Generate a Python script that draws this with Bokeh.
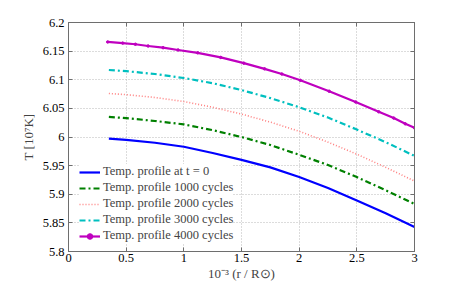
from bokeh.plotting import figure
from bokeh.models import LinearAxis, FixedTicker, Legend, LegendItem, Range1d
from bokeh.embed import file_html
from bokeh.resources import INLINE

x_vals = [0.35, 0.5, 0.75, 1.0, 1.25, 1.5, 1.75, 2.0, 2.25, 2.5, 2.75, 3.0]
t0 = [5.997, 5.995, 5.990, 5.983, 5.972, 5.960, 5.947, 5.930, 5.911, 5.889, 5.867, 5.843]
c1000 = [6.035, 6.033, 6.028, 6.022, 6.012, 6.000, 5.986, 5.969, 5.951, 5.930, 5.907, 5.883]
c2000 = [6.076, 6.074, 6.069, 6.062, 6.052, 6.040, 6.026, 6.010, 5.991, 5.970, 5.947, 5.923]
c3000 = [6.117, 6.115, 6.110, 6.103, 6.094, 6.082, 6.068, 6.052, 6.034, 6.013, 5.991, 5.967]
x4000 = [0.34, 0.47, 0.58, 0.69, 0.82, 0.95, 1.12, 1.32, 1.52, 1.70, 1.85, 2.01, 2.26, 2.49, 2.69, 2.82, 2.92, 3.0]
c4000 = [6.166, 6.164, 6.162, 6.159, 6.156, 6.152, 6.147, 6.139, 6.129, 6.119, 6.110, 6.099, 6.080, 6.061, 6.044, 6.033, 6.023, 6.016]

labels = ["Temp. profile at t = 0", "Temp. profile 1000 cycles", "Temp. profile 2000 cycles",
          "Temp. profile 3000 cycles", "Temp. profile 4000 cycles"]
x_ticks = [0, 0.5, 1, 1.5, 2, 2.5, 3]
y_ticks = [5.8, 5.85, 5.9, 5.95, 6.0, 6.05, 6.1, 6.15, 6.2]
x_tick_labels = {0: "0", 0.5: "0.5", 1: "1", 1.5: "1.5", 2: "2", 2.5: "2.5", 3: "3"}
y_tick_labels = {5.8: "5.8", 5.85: "5.85", 5.9: "5.9", 5.95: "5.95", 6.0: "6", 6.05: "6.05",
                 6.1: "6.1", 6.15: "6.15", 6.2: "6.2"}

FONT = "Liberation Serif"

p = figure(width=449, height=283, output_backend="svg", toolbar_location=None,
           x_range=Range1d(0, 3), y_range=Range1d(5.8, 6.2),
           min_border_left=68, min_border_right=35, min_border_top=22, min_border_bottom=30)
p.xaxis.visible = False
p.yaxis.visible = False

def style_axis(ax, show_labels):
    ax.axis_line_color = "#6e6e6e"
    ax.major_tick_line_color = "#6e6e6e"
    ax.major_tick_in = 4
    ax.major_tick_out = 0
    ax.minor_tick_line_color = None
    ax.major_label_text_font = FONT
    ax.major_label_text_color = "black"
    ax.axis_label_text_font = FONT
    ax.axis_label_text_font_style = "normal"
    ax.major_label_text_font_size = "12.5px"
    ax.axis_label_text_font_size = "13px"
    if not show_labels:
        ax.major_label_standoff = 0

bx = LinearAxis(ticker=FixedTicker(ticks=x_ticks), major_label_overrides=x_tick_labels,
                axis_label="10⁻³ (r / R⊙)")
style_axis(bx, True)
bx.major_label_standoff = 2
bx.axis_label_standoff = 1
ly = LinearAxis(ticker=FixedTicker(ticks=y_ticks), major_label_overrides=y_tick_labels,
                axis_label="T [10⁷K]")
style_axis(ly, True)
ly.major_label_standoff = 4
ly.axis_label_standoff = 4
tx = LinearAxis(ticker=FixedTicker(ticks=x_ticks), major_label_overrides={t: "" for t in x_ticks})
style_axis(tx, False)
ry = LinearAxis(ticker=FixedTicker(ticks=y_ticks), major_label_overrides={t: "" for t in y_ticks})
style_axis(ry, False)
p.add_layout(bx, "below")
p.add_layout(ly, "left")
p.add_layout(tx, "above")
p.add_layout(ry, "right")

p.xgrid.ticker = FixedTicker(ticks=x_ticks)
p.ygrid.ticker = FixedTicker(ticks=y_ticks)
for g in (p.xgrid, p.ygrid):
    g.grid_line_color = "#b8b8b8"
    g.grid_line_dash = "1 2"
    g.grid_line_width = 1
p.outline_line_color = "#6e6e6e"

r0 = p.line(x_vals, t0, line_color="#0000ff", line_width=2.2)
r1 = p.line(x_vals, c1000, line_color="#008000", line_width=2.2, line_dash="6 3 2 3")
r2 = p.line(x_vals, c2000, line_color="#ff8080", line_width=1.6, line_dash="1 2")
r3 = p.line(x_vals, c3000, line_color="#00bfbf", line_width=2.2, line_dash="6 3 2 3")
r4 = p.line(x4000, c4000, line_color="#bf00bf", line_width=2.2)
r4m = p.scatter(x4000, c4000, size=2.5, marker="circle", fill_color="#bf00bf", line_color="#bf00bf")

legend = Legend(items=[LegendItem(label=labels[0], renderers=[r0]),
                       LegendItem(label=labels[1], renderers=[r1]),
                       LegendItem(label=labels[2], renderers=[r2]),
                       LegendItem(label=labels[3], renderers=[r3]),
                       LegendItem(label=labels[4], renderers=[r4, r4m])],
                location=(11, 8))
legend.label_text_font = FONT
legend.label_text_font_size = "12.5px"
legend.label_standoff = 3
legend.glyph_width = 21
legend.glyph_height = 14
legend.label_height = 14
legend.spacing = 1
legend.padding = 4
legend.margin = 0
legend.border_line_color = None
legend.background_fill_color = "white"
legend.background_fill_alpha = 1.0
p.add_layout(legend, "center")

open("out.html", "w").write(file_html(p, INLINE))
